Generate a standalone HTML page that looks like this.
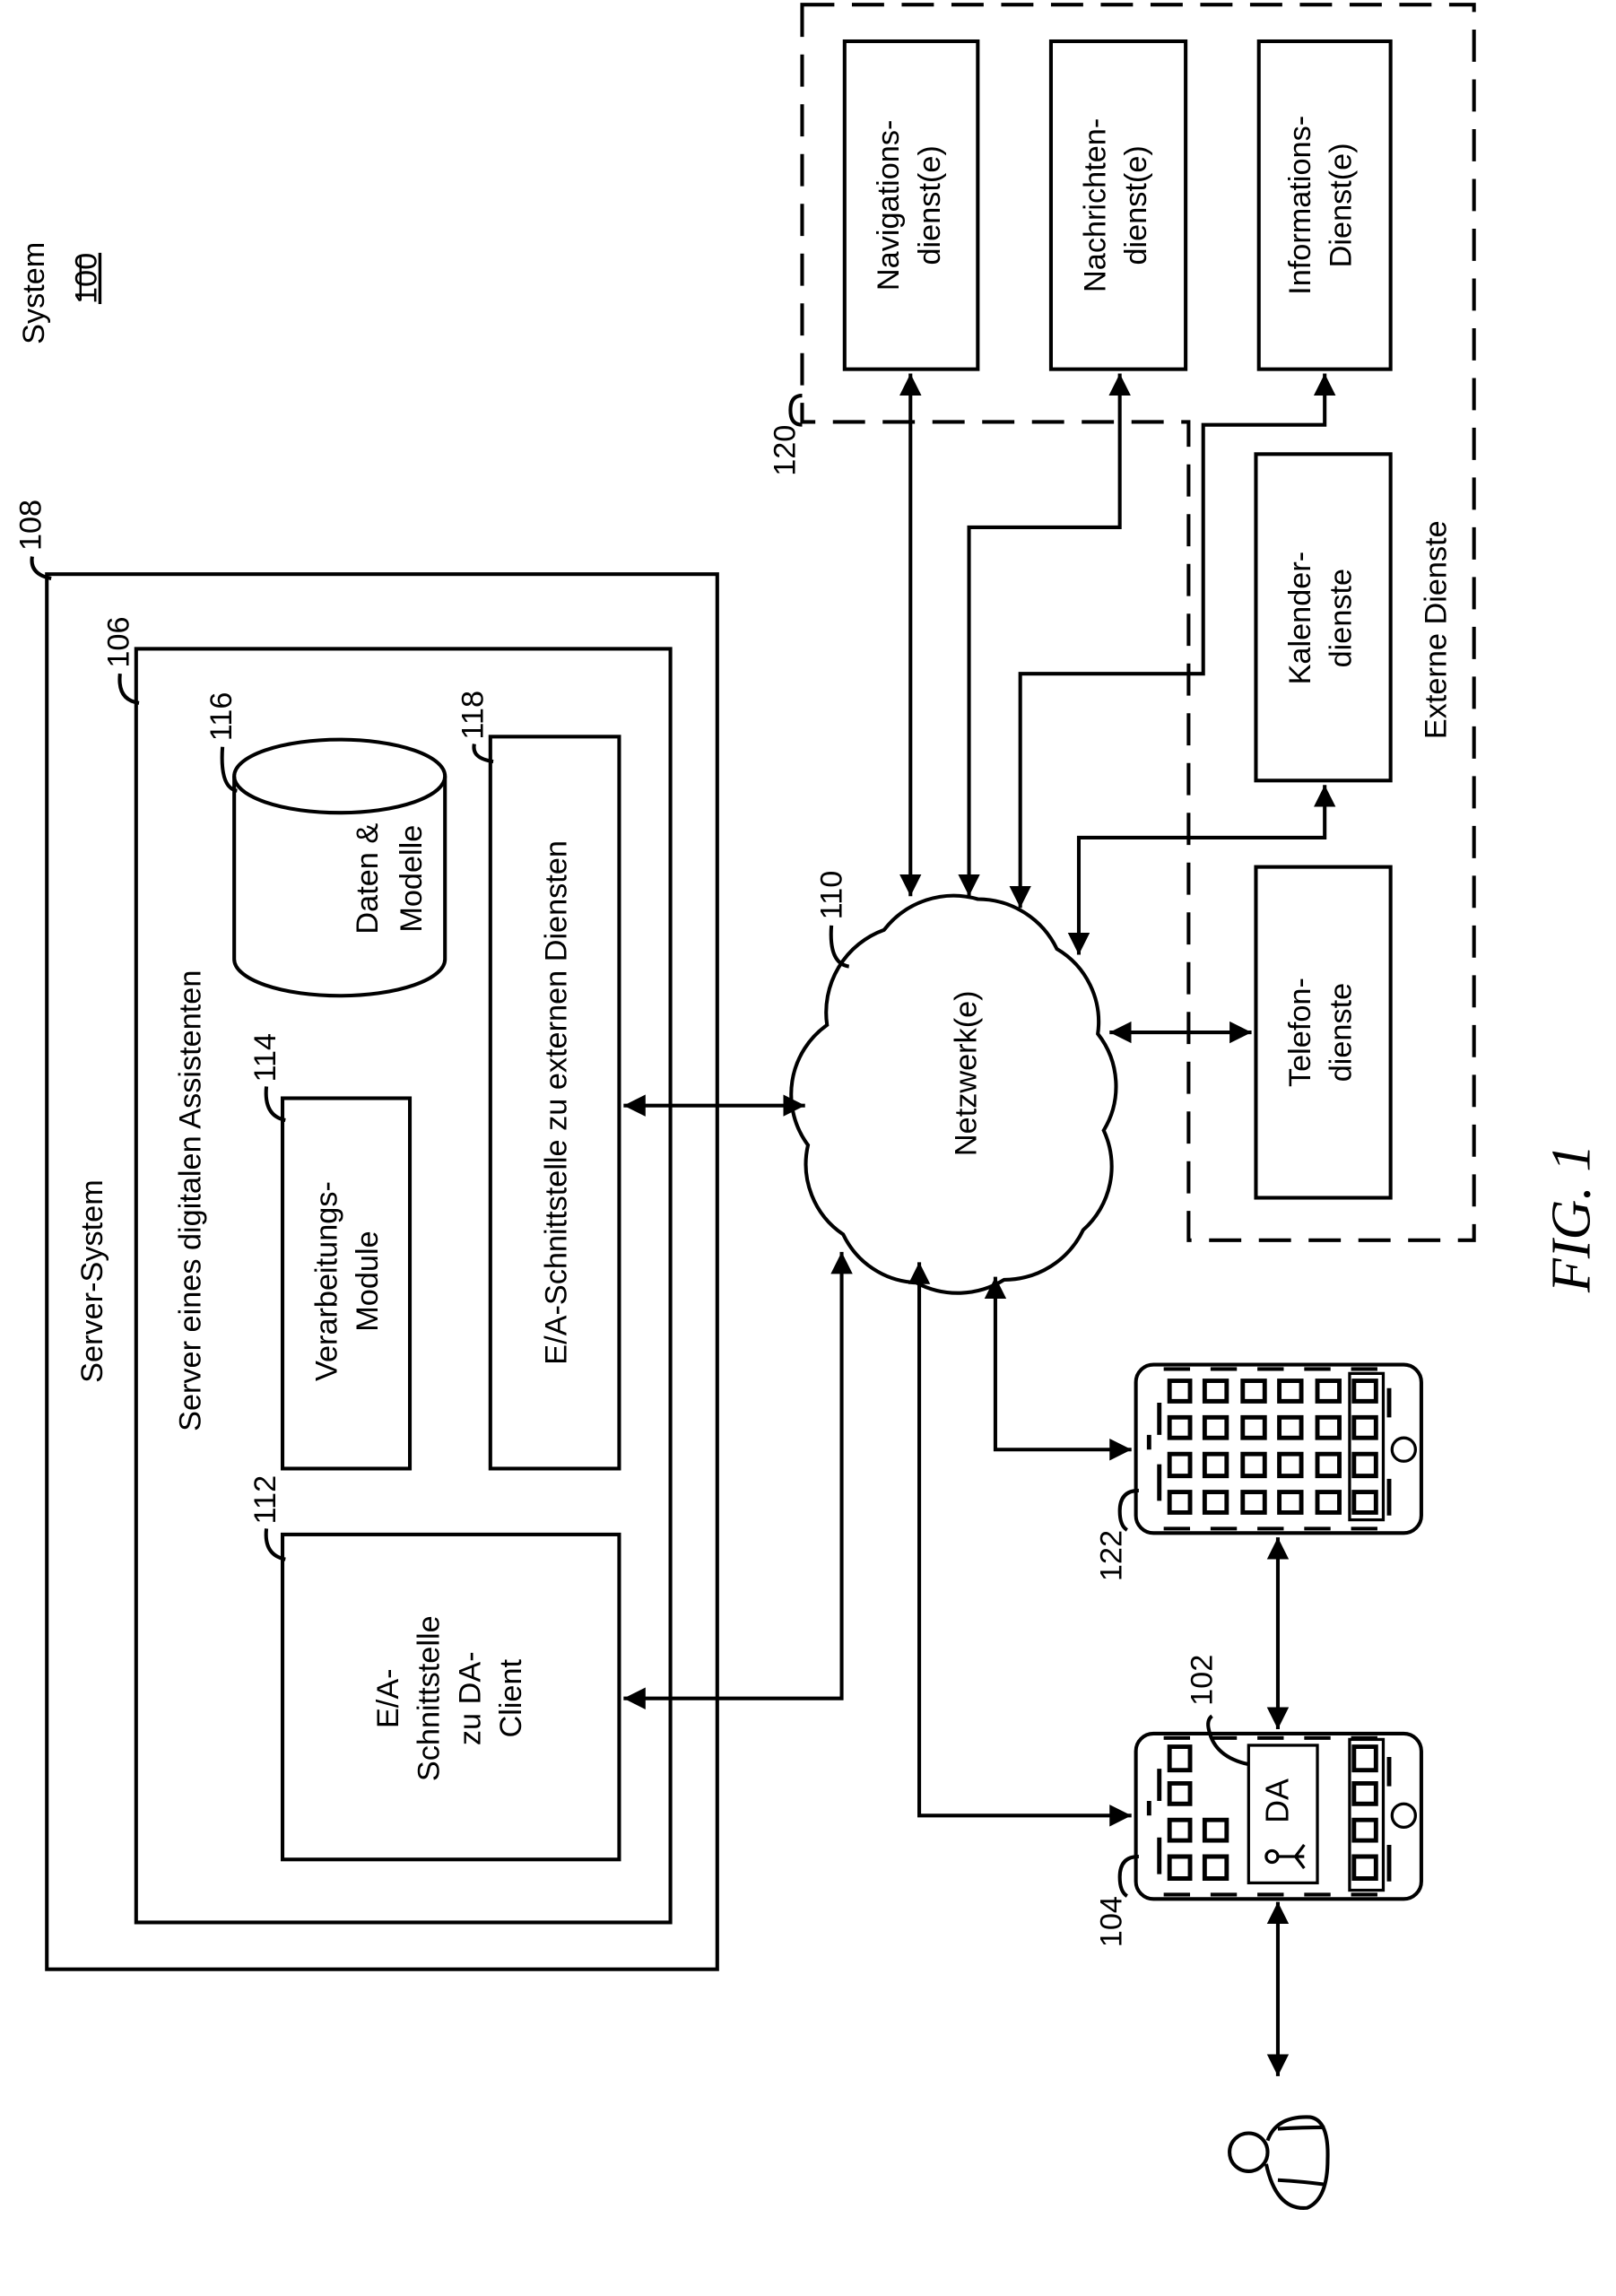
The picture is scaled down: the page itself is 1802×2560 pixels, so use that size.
<!DOCTYPE html>
<html><head><meta charset="utf-8"><style>
html,body{margin:0;padding:0;background:#fff}
svg{display:block}
text{font-family:"Liberation Sans Narrow","Liberation Sans",sans-serif;fill:#000}
</style></head><body>
<svg width="1802" height="2560" viewBox="0 0 1104 1568" xmlns="http://www.w3.org/2000/svg">
<defs>
<marker id="a" viewBox="0 0 10 10" refX="10" refY="5" markerWidth="6" markerHeight="6" orient="auto-start-reverse" markerUnits="strokeWidth"><path d="M0,0 L10,5 L0,10 z" fill="#000"/></marker>
</defs>
<g fill="none" stroke="#000" stroke-width="2.5">
<rect x="32" y="392" width="458" height="953"/>
<rect x="93" y="443" width="365" height="870"/>
<rect x="193" y="750" width="87" height="253"/>
<rect x="193" y="1048" width="230" height="222"/>
<rect x="335" y="503" width="88" height="500"/>
<path d="M160,530 L160,655 A72,25 0 0 0 304,655 L304,530"/>
<ellipse cx="232" cy="530" rx="72" ry="25"/>
<path d="M548,3 L1007,3 L1007,847 L812,847 L812,288 L548,288 Z" stroke-dasharray="22,12"/>
<rect x="577" y="28" width="91" height="224"/>
<rect x="718" y="28" width="92" height="224"/>
<rect x="860" y="28" width="90" height="224"/>
<rect x="858" y="310" width="92" height="223"/>
<rect x="858" y="592" width="92" height="226"/>
<path d="M565,700 A60,60 0 0 1 604,635 A60,60 0 0 1 668,614 A60,60 0 0 1 722,648 A58,58 0 0 1 750,706 A58,58 0 0 1 754,772 A58,58 0 0 1 740,840 A60,60 0 0 1 686,874 A60,60 0 0 1 626,876 A58,58 0 0 1 576,843 A58,58 0 0 1 552,782 A58,58 0 0 1 565,700 Z"/>
<path d="M35,395 Q20,392 22,380"/>
<path d="M95,480 Q80,478 82,460"/>
<path d="M195,765 Q180,762 182,742"/>
<path d="M195,1065 Q180,1062 182,1044"/>
<path d="M162,540 Q150,538 152,510"/>
<path d="M337,520 Q322,518 324,508"/>
<path d="M580,660 Q566,658 568,632"/>
<path d="M548,290 Q540,290 540,280 Q540,270 548,270"/>
<path d="M778,1018 Q765,1018 765,1032 Q765,1042 770,1045"/>
<path d="M778,1268 Q765,1268 765,1282 Q765,1292 770,1295"/>
<path d="M853,1205 Q830,1200 826,1182 Q824,1175 828,1172"/>
</g>
<g fill="none" stroke="#000" stroke-width="2.5">
<path d="M622,255 L622,612" marker-start="url(#a)" marker-end="url(#a)"/>
<path d="M765,255 L765,360 L662,360 L662,612" marker-start="url(#a)" marker-end="url(#a)"/>
<path d="M905,255 L905,290 L822,290 L822,460 L697,460 L697,620" marker-start="url(#a)" marker-end="url(#a)"/>
<path d="M905,536 L905,572 L737,572 L737,652" marker-start="url(#a)" marker-end="url(#a)"/>
<path d="M758,705 L855,705" marker-start="url(#a)" marker-end="url(#a)"/>
<path d="M426,755 L550,755" marker-start="url(#a)" marker-end="url(#a)"/>
<path d="M426,1160 L575,1160 L575,855" marker-start="url(#a)" marker-end="url(#a)"/>
<path d="M628,862 L628,1240 L773,1240" marker-start="url(#a)" marker-end="url(#a)"/>
<path d="M680,872 L680,990 L773,990" marker-start="url(#a)" marker-end="url(#a)"/>
<path d="M873,1050 L873,1181" marker-start="url(#a)" marker-end="url(#a)"/>
<path d="M873,1299 L873,1418" marker-start="url(#a)" marker-end="url(#a)"/>
<line x1="55" y1="205" x2="55" y2="175" stroke-width="1.5"/>
</g>
<g fill="none" stroke="#000" stroke-width="2.5">
<rect x="776" y="932" width="195" height="115" rx="12"/>
<rect x="776" y="1184" width="195" height="113" rx="12"/>
<g stroke-width="2">
<rect x="922" y="938" width="23" height="100"/>
<rect x="922" y="1188" width="23" height="103"/>
<circle cx="959" cy="990" r="8"/>
<circle cx="959" cy="1240" r="8"/>
<rect x="853" y="1192" width="47" height="94"/>
</g>
<g stroke-width="3">
<path d="M799,943h14v14h-14zM823,943h15v14h-15zM849,943h15v14h-15zM874,943h15v14h-15zM900,943h15v14h-15zM925,943h15v14h-15z"/>
<path d="M799,968h14v14h-14zM823,968h15v14h-15zM849,968h15v14h-15zM874,968h15v14h-15zM900,968h15v14h-15zM925,968h15v14h-15z"/>
<path d="M799,993h14v15h-14zM823,993h15v15h-15zM849,993h15v15h-15zM874,993h15v15h-15zM900,993h15v15h-15zM925,993h15v15h-15z"/>
<path d="M799,1019h14v14h-14zM823,1019h15v14h-15zM849,1019h15v14h-15zM874,1019h15v14h-15zM900,1019h15v14h-15zM925,1019h15v14h-15z"/>
<path d="M799,1193h14v16h-14zM799,1218h14v14h-14zM799,1243h14v14h-14zM799,1268h14v15h-14z"/>
<path d="M823,1243h15v14h-15zM823,1268h15v15h-15z"/>
<path d="M925,1193h15v16h-15zM925,1218h15v14h-15zM925,1243h15v14h-15zM925,1268h15v15h-15z"/>
<path d="M792,958v22M792,1000v25M949,948v20M949,1010v25M792,1208v22M792,1255v25M949,1200v20M949,1260v25"/>
<path d="M785,980v10M785,1230v10"/>
</g>
<g stroke-width="2.5" stroke-dasharray="18,14">
<path d="M795,935h160M795,1044h160M795,1187h160M795,1294h160"/>
</g>
</g>
<g fill="none" stroke="#000" stroke-width="2">
<circle cx="869" cy="1268" r="4"/>
<path d="M873,1268h18M891,1260l-6,8l6,8"/>
</g>
<text transform="rotate(-90 880 1230)" x="880" y="1230" font-size="22" text-anchor="middle">DA</text>
<g fill="none" stroke="#000" stroke-width="2.5">
<circle cx="853" cy="1470" r="13"/>
<path d="M866,1462 Q872,1445 895,1446 Q908,1448 907,1475 Q907,1502 893,1508 Q872,1510 865,1478"/>
<path d="M873,1454 Q890,1453 905,1453M873,1489 Q890,1490 905,1492"/>
</g>
<g font-size="21" text-anchor="middle">
<text transform="rotate(-90 30 200)" x="30" y="200">System</text>
<text transform="rotate(-90 66 190)" x="66" y="190" text-decoration="underline">100</text>
<text transform="rotate(-90 70 875)" x="70" y="875">Server-System</text>
<text transform="rotate(-90 137 820)" x="137" y="820">Server eines digitalen Assistenten</text>
<text transform="rotate(-90 230 875)" x="230" y="875">Verarbeitungs-</text>
<text transform="rotate(-90 258 875)" x="258" y="875">Module</text>
<text transform="rotate(-90 272 1160)" x="272" y="1160">E/A-</text>
<text transform="rotate(-90 300 1160)" x="300" y="1160">Schnittstelle</text>
<text transform="rotate(-90 328 1160)" x="328" y="1160">zu DA-</text>
<text transform="rotate(-90 356 1160)" x="356" y="1160">Client</text>
<text transform="rotate(-90 387 753)" x="387" y="753">E/A-Schnittstelle zu externen Diensten</text>
<text transform="rotate(-90 258 600)" x="258" y="600">Daten &amp;</text>
<text transform="rotate(-90 288 600)" x="288" y="600">Modelle</text>
<text transform="rotate(-90 667 733)" x="667" y="733">Netzwerk(e)</text>
<text transform="rotate(-90 614 140)" x="614" y="140">Navigations-</text>
<text transform="rotate(-90 642 140)" x="642" y="140">dienst(e)</text>
<text transform="rotate(-90 755 140)" x="755" y="140">Nachrichten-</text>
<text transform="rotate(-90 783 140)" x="783" y="140">dienst(e)</text>
<text transform="rotate(-90 895 140)" x="895" y="140">Informations-</text>
<text transform="rotate(-90 923 140)" x="923" y="140">Dienst(e)</text>
<text transform="rotate(-90 895 422)" x="895" y="422">Kalender-</text>
<text transform="rotate(-90 923 422)" x="923" y="422">dienste</text>
<text transform="rotate(-90 895 705)" x="895" y="705">Telefon-</text>
<text transform="rotate(-90 923 705)" x="923" y="705">dienste</text>
<text transform="rotate(-90 988 430)" x="988" y="430">Externe Dienste</text>
<text transform="rotate(-90 28 376)" x="28" y="376" text-anchor="start">108</text>
<text transform="rotate(-90 88 456)" x="88" y="456" text-anchor="start">106</text>
<text transform="rotate(-90 188 739)" x="188" y="739" text-anchor="start">114</text>
<text transform="rotate(-90 188 1041)" x="188" y="1041" text-anchor="start">112</text>
<text transform="rotate(-90 158 506)" x="158" y="506" text-anchor="start">116</text>
<text transform="rotate(-90 330 505)" x="330" y="505" text-anchor="start">118</text>
<text transform="rotate(-90 575 628)" x="575" y="628" text-anchor="start">110</text>
<text transform="rotate(-90 543 325)" x="543" y="325" text-anchor="start">120</text>
<text transform="rotate(-90 766 1080)" x="766" y="1080" text-anchor="start">122</text>
<text transform="rotate(-90 766 1330)" x="766" y="1330" text-anchor="start">104</text>
<text transform="rotate(-90 828 1165)" x="828" y="1165" text-anchor="start">102</text>
</g>
<text transform="rotate(-90 1086 832)" x="1086" y="832" font-size="38" font-style="italic" text-anchor="middle" style="font-family:'Liberation Serif',serif">FIG. 1</text>
</svg>
</body></html>
